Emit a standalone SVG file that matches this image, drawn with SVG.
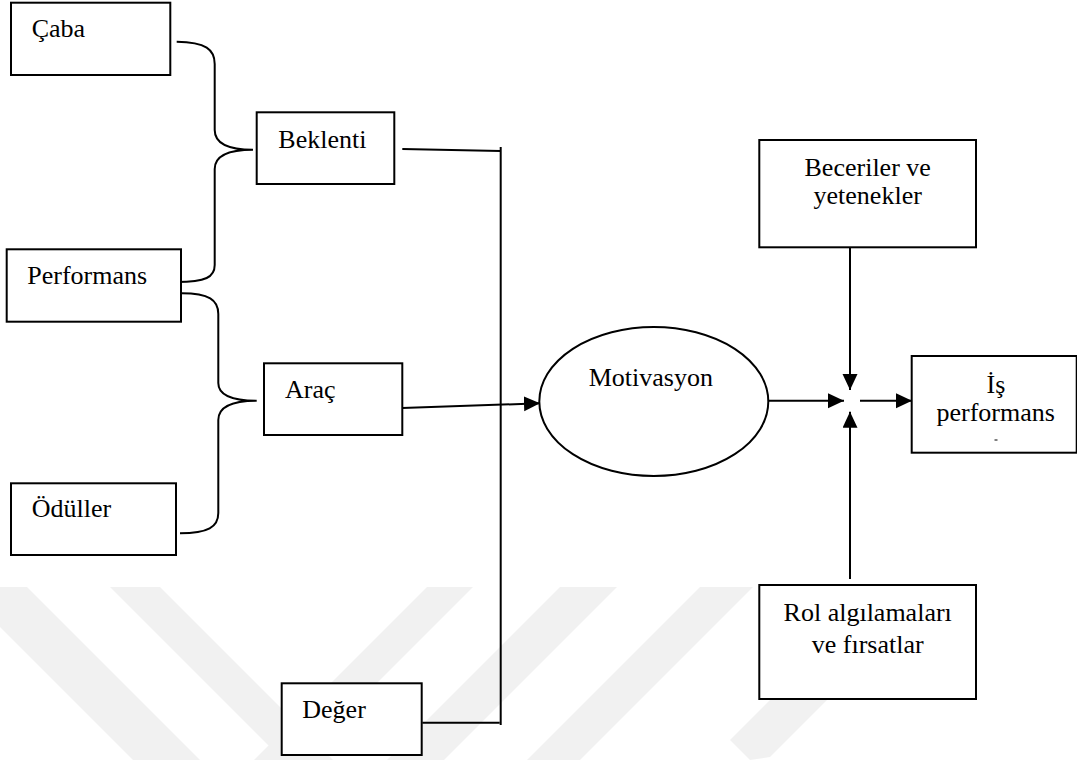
<svg xmlns="http://www.w3.org/2000/svg" width="1077" height="760" viewBox="0 0 1077 760">
  <style>
    .box { fill: #ffffff; stroke: #000000; stroke-width: 2; }
    .lbl { font-family: "Liberation Serif", "Times New Roman", serif; font-size: 26px; fill: #000000; }
    .mid { text-anchor: middle; }
    .wire { fill: none; stroke: #000000; stroke-width: 2; }
    .mark { fill: #f1f1f1; stroke: none; }
  </style>
  <defs>
    <marker id="arrow" markerUnits="userSpaceOnUse" markerWidth="17" markerHeight="16" refX="16" refY="7.5" orient="auto">
      <path d="M0,0 L16,7.5 L0,15 Z" fill="#000000"/>
    </marker>
  </defs>

  <rect width="1077" height="760" fill="#ffffff"/>

  <!-- faint background stripes -->
  <g id="background-stripes">
    <polygon class="mark" points="-40,587 27,587 200,760 133,760"/>
    <polygon class="mark" points="110,587 160,587 333,760 283,760"/>
    <polygon class="mark" points="427,587 473,587 300,760 254,760"/>
    <polygon class="mark" points="560,587 617,587 444,760 387,760"/>
    <polygon class="mark" points="700,587 753,587 580,760 527,760"/>
    <polygon class="mark" points="883,587 940,587 770,757 750,760 730,740"/>
  </g>

  <!-- connectors -->
  <g id="connectors">
    <path class="wire" d="M176.7,41.7 C206,42 214.7,50 214.7,64 L214.7,130 C214.7,143 228,149.7 253,149.7 C228,149.7 214.7,156 214.7,169 L214.7,265 C214.7,277 206,282 176.7,282"/>
    <path class="wire" d="M181.7,293.3 C209,293.3 218.3,300 218.3,314 L218.3,383 C218.3,395 232,400.7 256.7,400.7 C232,400.7 218.3,407 218.3,420 L218.3,513 C218.3,527 208,533.3 180,533.3"/>
    <path class="wire" d="M402.3,149 L500.7,151"/>
    <path class="wire" d="M500.7,147 L500.7,725"/>
    <path class="wire" d="M422.3,722.7 L499.7,722.7"/>
    <path class="wire" d="M402.3,408 L540,403.3" marker-end="url(#arrow)"/>
    <path class="wire" d="M768.3,400.7 L844,400.7" marker-end="url(#arrow)"/>
    <path class="wire" d="M860,400.7 L912,400.7" marker-end="url(#arrow)"/>
    <path class="wire" d="M850,247.3 L850,390" marker-end="url(#arrow)"/>
    <path class="wire" d="M850,579 L850,411.7" marker-end="url(#arrow)"/>
  </g>

  <g id="caba">
    <rect class="box" x="11" y="2.7" width="159.3" height="72.3"/>
    <text class="lbl" x="31.7" y="37.3">Çaba</text>
  </g>
  <g id="beklenti">
    <rect class="box" x="256.7" y="112.3" width="137.6" height="71.7"/>
    <text class="lbl" x="278.3" y="147.7">Beklenti</text>
  </g>
  <g id="performans">
    <rect class="box" x="6.7" y="249.3" width="174.3" height="72.4"/>
    <text class="lbl" x="27.3" y="284.3">Performans</text>
  </g>
  <g id="arac">
    <rect class="box" x="264" y="363.3" width="138.3" height="71.7"/>
    <text class="lbl" x="285" y="398.3">Araç</text>
  </g>
  <g id="oduller">
    <rect class="box" x="11" y="483.3" width="165" height="71.7"/>
    <text class="lbl" x="31.7" y="517.3">Ödüller</text>
  </g>
  <g id="deger">
    <rect class="box" x="281.7" y="683.3" width="140" height="71.7"/>
    <text class="lbl" x="302.3" y="718.3">Değer</text>
  </g>
  <g id="motivasyon">
    <ellipse class="box" cx="653.8" cy="401.5" rx="114.5" ry="74.5"/>
    <text class="lbl mid" x="650.8" y="386">Motivasyon</text>
  </g>
  <g id="beceriler">
    <rect class="box" x="759.3" y="140" width="216.7" height="107.3"/>
    <text class="lbl mid" x="867.7" y="176">Beceriler ve</text>
    <text class="lbl mid" x="867.7" y="204">yetenekler</text>
  </g>
  <g id="rol">
    <rect class="box" x="759.3" y="585" width="216.7" height="114"/>
    <text class="lbl mid" x="867.7" y="620.7">Rol algılamaları</text>
    <text class="lbl mid" x="867.7" y="653">ve fırsatlar</text>
  </g>
  <g id="is-performans">
    <rect class="box" x="911.7" y="356" width="165" height="96.7"/>
    <text class="lbl mid" x="996" y="393.3">İş</text>
    <text class="lbl mid" x="995.7" y="420.7">performans</text>
    <line x1="994.5" y1="440" x2="997.5" y2="440" stroke="#000000" stroke-width="1"/>
  </g>
</svg>
